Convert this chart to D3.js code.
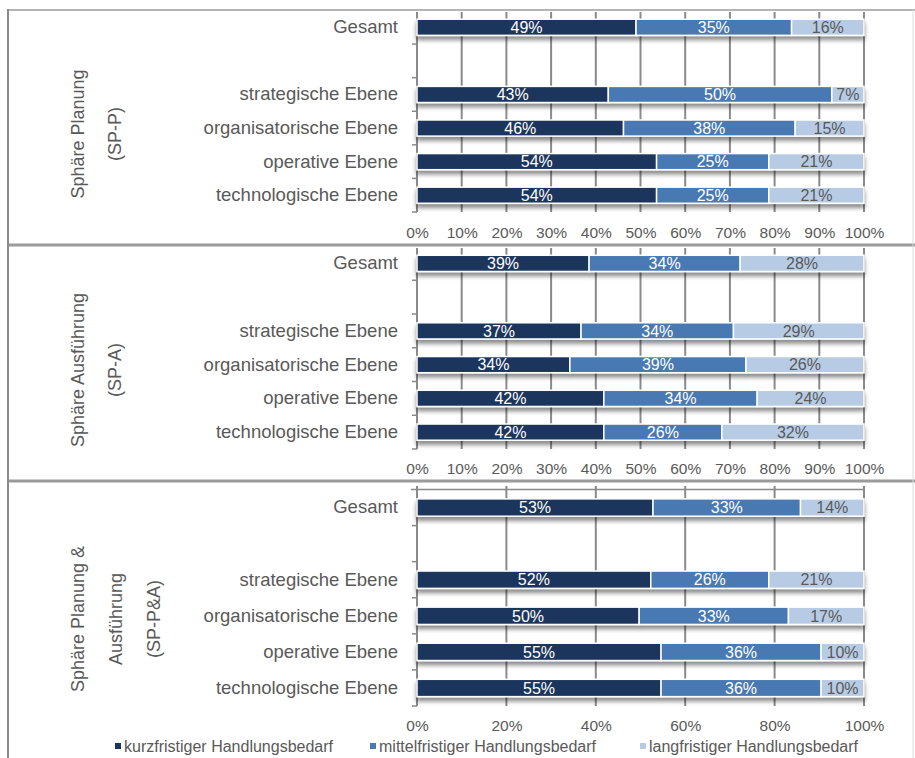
<!DOCTYPE html>
<html><head><meta charset="utf-8">
<script src="https://cdn.jsdelivr.net/npm/d3@7"></script>
<style>
html,body{margin:0;padding:0;background:#fff;}
svg{display:block;font-family:"Liberation Sans",Arial,sans-serif;}
</style></head>
<body>
<svg id="chart" width="915" height="758"></svg>
<script>
// ---------- DATA ----------
const categories = ["Gesamt", " ", "strategische Ebene", "organisatorische Ebene", "operative Ebene", "technologische Ebene"];
const seriesNames = ["kurzfristiger Handlungsbedarf", "mittelfristiger Handlungsbedarf", "langfristiger Handlungsbedarf"];
const seriesColors = ["#1b365d", "#4a79b3", "#b7cce4"];
const labelColors = ["#ffffff", "#ffffff", "#595959"];

const titlesSPP = ["Sphäre Planung", "(SP-P)"];
const titlesSPA = ["Sphäre Ausführung", "(SP-A)"];
const titlesSPPA = ["Sphäre Planung &", "Ausführung", "(SP-P&A)"];

// SP-P
const sppKurz   = [49.0, null, 42.8, 46.2, 53.6, 53.6];
const sppMittel = [34.8, null, 50.0, 38.4, 25.1, 25.1];
const sppLang   = [16.2, null,  7.2, 15.4, 21.3, 21.3];
// SP-A
const spaKurz   = [38.5, null, 36.7, 34.2, 41.8, 41.8];
const spaMittel = [33.8, null, 34.1, 39.4, 34.3, 26.4];
const spaLang   = [27.7, null, 29.2, 26.4, 23.9, 31.8];
// SP-P&A
const sppaKurz   = [52.8, null, 52.3, 49.7, 54.6, 54.6];
const sppaMittel = [33.0, null, 26.4, 33.4, 35.8, 35.8];
const sppaLang   = [14.2, null, 21.3, 16.9,  9.6,  9.6];

const ticks10 = [0, 10, 20, 30, 40, 50, 60, 70, 80, 90, 100];
const ticks20 = [0, 20, 40, 60, 80, 100];

// ---------- LAYOUT ----------
const svg = d3.select("#chart");
const textGray = "#595959";
const gridGray = "#8a8a8a";
const x = d3.scaleLinear().domain([0, 100]).range([417, 864]);

const defs = svg.append("defs");
const f = defs.append("filter").attr("id", "shadow")
  .attr("x", "-5%").attr("y", "-50%").attr("width", "110%").attr("height", "250%");
f.append("feDropShadow").attr("dx", 0).attr("dy", 4).attr("stdDeviation", 2.3)
  .attr("flood-color", "#000").attr("flood-opacity", 0.45);

// frame lines
svg.append("line").attr("x1", 8).attr("x2", 915).attr("y1", 10).attr("y2", 10)
  .attr("stroke", "#b4b4b4").attr("stroke-width", 2);
svg.append("line").attr("x1", 8).attr("x2", 915).attr("y1", 245).attr("y2", 245)
  .attr("stroke", "#9a9a9a").attr("stroke-width", 3);
svg.append("line").attr("x1", 8).attr("x2", 915).attr("y1", 481).attr("y2", 481)
  .attr("stroke", "#9a9a9a").attr("stroke-width", 3);
svg.append("line").attr("x1", 8).attr("x2", 8).attr("y1", 9).attr("y2", 758)
  .attr("stroke", "#8a8a8a").attr("stroke-width", 2);
svg.append("line").attr("x1", 913).attr("x2", 913).attr("y1", 10).attr("y2", 758)
  .attr("stroke", "#dcdcdc").attr("stroke-width", 1);

const panels = [
  { top: 10.5, bottom: 212, tickY: 232, titles: titlesSPP, titleY: 134, titleX: [84, 121],
    series: [sppKurz, sppMittel, sppLang], ticks: ticks10, topLine: false },
  { top: 246.5, bottom: 449, tickY: 468, titles: titlesSPA, titleY: 370, titleX: [84, 121],
    series: [spaKurz, spaMittel, spaLang], ticks: ticks10, topLine: false },
  { top: 489.5, bottom: 706, tickY: 725, titles: titlesSPPA, titleY: 619, titleX: [84, 122, 160],
    series: [sppaKurz, sppaMittel, sppaLang], ticks: ticks20, topLine: true }
];

panels.forEach(p => {
  const g = svg.append("g");
  const y = d3.scaleBand().domain(categories).range([p.top, p.bottom]).paddingInner(0.52).paddingOuter(0.26);

  // gridlines
  const gridTop = p.topLine ? p.top - 3.5 : p.top + 1.5;
  g.selectAll(".grid").data(p.ticks.filter(t => t > 0)).join("line")
    .attr("x1", d => x(d)).attr("x2", d => x(d))
    .attr("y1", gridTop).attr("y2", p.bottom)
    .attr("stroke", gridGray).attr("stroke-width", 2);
  if (p.topLine) {
    g.append("line").attr("x1", 411).attr("x2", x(100)).attr("y1", p.top).attr("y2", p.top)
      .attr("stroke", gridGray).attr("stroke-width", 1.5);
  }

  // y axis line and boundary ticks
  const axTop = p.topLine ? p.top - 3.5 : p.top + 1.5;
  g.append("line").attr("x1", x(0)).attr("x2", x(0)).attr("y1", axTop).attr("y2", p.bottom)
    .attr("stroke", gridGray).attr("stroke-width", 2);
  const step = (p.bottom - p.top) / categories.length;
  const bounds = d3.range(1, categories.length + 1).map(i => p.top + i * step);
  g.selectAll(".ytick").data(bounds).join("line")
    .attr("x1", x(0) - 5).attr("x2", x(0)).attr("y1", d => d).attr("y2", d => d)
    .attr("stroke", gridGray).attr("stroke-width", 1.5);

  // category labels
  const yAxis = d3.axisLeft(y).tickSize(0).tickPadding(0);
  const ya = g.append("g").attr("transform", "translate(398,0)").call(yAxis);
  ya.select(".domain").remove();
  ya.selectAll("text").attr("font-size", 18.5).attr("fill", textGray)
    .attr("font-family", "Liberation Sans, Arial, sans-serif");

  // bars
  const rows = categories.map((c, i) => {
    let acc = 0;
    const segs = p.series.map((s, k) => {
      const v = s[i];
      const seg = { v: v, x0: acc, x1: acc + (v || 0), k: k };
      acc += (v || 0);
      return seg;
    });
    return { cat: c, segs: segs, has: p.series[0][i] != null };
  }).filter(r => r.has);

  const rowG = g.selectAll(".row").data(rows).join("g")
    .attr("filter", "url(#shadow)");
  rowG.selectAll("rect").data(r => r.segs.map(s => Object.assign({ cat: r.cat }, s))).join("rect")
    .attr("x", d => x(d.x0)).attr("width", d => x(d.x1) - x(d.x0))
    .attr("y", d => y(d.cat)).attr("height", y.bandwidth())
    .attr("fill", d => seriesColors[d.k])
    .attr("stroke", "#fff").attr("stroke-width", 1.5);

  const lblG = g.append("g");
  rows.forEach(r => {
    lblG.selectAll(null).data(r.segs).join("text")
      .attr("x", d => (x(d.x0) + x(d.x1)) / 2)
      .attr("y", y(r.cat) + y.bandwidth() / 2)
      .attr("dy", "0.36em")
      .attr("text-anchor", "middle")
      .attr("font-size", 16)
      .attr("fill", d => labelColors[d.k])
      .text(d => Math.round(d.v) + "%");
  });

  // x axis tick labels
  const xAxis = d3.axisBottom(x).tickValues(p.ticks).tickSize(0).tickPadding(0)
    .tickFormat(d => d + "%");
  const xa = g.append("g").attr("transform", `translate(0,${p.tickY})`).call(xAxis);
  xa.select(".domain").remove();
  xa.selectAll("text").attr("dy", "0.36em").attr("y", 0).attr("font-size", 15.5)
    .attr("fill", textGray).attr("font-family", "Liberation Sans, Arial, sans-serif");

  // rotated panel titles
  p.titles.forEach((t, i) => {
    svg.append("text")
      .attr("transform", `translate(${p.titleX[i]},${p.titleY}) rotate(-90)`)
      .attr("text-anchor", "middle")
      .attr("font-size", 18)
      .attr("fill", textGray)
      .text(t);
  });
});

// legend
const legendX = [115, 370, 640];
const lg = svg.append("g");
seriesNames.forEach((n, i) => {
  lg.append("rect").attr("x", legendX[i]).attr("y", 743).attr("width", 6).attr("height", 6)
    .attr("fill", seriesColors[i]);
  lg.append("text").attr("x", legendX[i] + 9).attr("y", 746).attr("dy", "0.36em")
    .attr("font-size", 16).attr("fill", textGray).text(n);
});
</script>
</body></html>
